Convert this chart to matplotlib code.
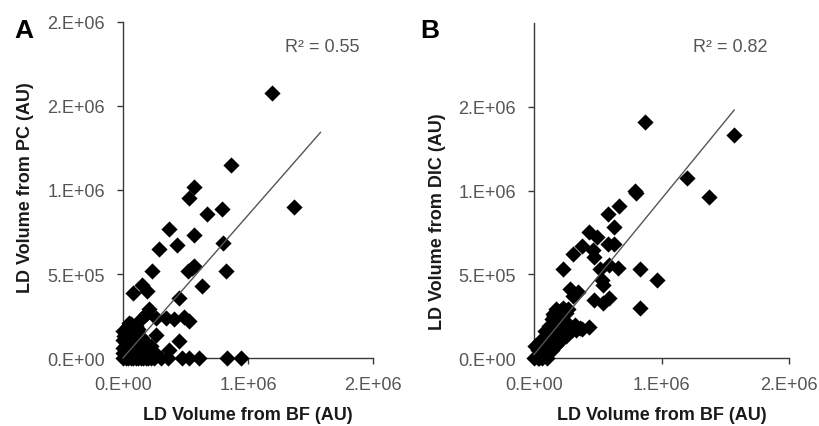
import matplotlib
matplotlib.use("Agg")
import matplotlib.pyplot as plt
import numpy as np

plt.rcParams['font.family'] = ['Liberation Sans', 'DejaVu Sans']

# LD volume estimates (AU), bright field vs phase contrast
pc_bf = [1.19e6, 0.86e6, 1.37e6, 0.57e6, 0.53e6, 0.67e6, 0.79e6, 0.37e6, 0.57e6, 0.43e6,
         0.29e6, 0.80e6, 0.23e6, 0.52e6, 0.57e6, 0.55e6, 0.82e6, 0.635e6, 0.08e6, 0.15e6,
         0.19e6, 0.445e6, 0.21e6, 0.18e6, 0.145e6, 0.26e6, 0.34e6, 0.41e6, 0.49e6, 0.53e6,
         0.26e6, 0.45e6, 0.37e6, 0.05e6,
         0.36e6, 0.47e6, 0.53e6, 0.61e6, 0.83e6, 0.94e6, 0.30e6, 0.25e6,
         0.0, 0.02e6, 0.04e6, 0.06e6, 0.08e6, 0.10e6, 0.12e6, 0.14e6, 0.16e6, 0.18e6, 0.20e6, 0.22e6,
         0.01e6, 0.03e6, 0.05e6, 0.07e6, 0.09e6, 0.11e6, 0.13e6, 0.15e6, 0.17e6, 0.19e6, 0.21e6, 0.24e6, 0.27e6,
         0.02e6, 0.04e6, 0.06e6, 0.08e6, 0.10e6, 0.12e6, 0.14e6, 0.16e6, 0.18e6, 0.20e6, 0.22e6,
         0.01e6, 0.03e6, 0.05e6, 0.07e6, 0.09e6, 0.11e6, 0.13e6, 0.15e6,
         0.04e6, 0.06e6, 0.08e6, 0.10e6, 0.12e6, 0.0, 0.0,
         0.0, 0.0, 0.02e6, 0.05e6, 0.09e6, 0.13e6, 0.17e6, 0.03e6, 0.07e6, 0.11e6]
pc_val = [1.58e6, 1.15e6, 0.90e6, 1.02e6, 0.95e6, 0.855e6, 0.885e6, 0.765e6, 0.735e6, 0.675e6,
          0.65e6, 0.685e6, 0.52e6, 0.52e6, 0.55e6, 0.535e6, 0.52e6, 0.43e6, 0.385e6, 0.435e6,
          0.40e6, 0.36e6, 0.29e6, 0.26e6, 0.23e6, 0.24e6, 0.24e6, 0.23e6, 0.245e6, 0.22e6,
          0.135e6, 0.10e6, 0.045e6, 0.21e6,
          0.0, 0.0, 0.0, 0.0, 0.0, 0.0, 0.0, 0.0,
          0.0, 0.0, 0.0, 0.0, 0.0, 0.0, 0.0, 0.0, 0.0, 0.0, 0.0, 0.0,
          0.03e6, 0.05e6, 0.02e6, 0.04e6, 0.06e6, 0.03e6, 0.05e6, 0.02e6, 0.04e6, 0.03e6, 0.02e6, 0.03e6, 0.02e6,
          0.08e6, 0.10e6, 0.09e6, 0.12e6, 0.08e6, 0.10e6, 0.09e6, 0.07e6, 0.08e6, 0.06e6, 0.07e6,
          0.13e6, 0.15e6, 0.14e6, 0.17e6, 0.15e6, 0.14e6, 0.13e6, 0.12e6,
          0.19e6, 0.20e6, 0.18e6, 0.19e6, 0.17e6, 0.06e6, 0.11e6,
          0.16e6, 0.03e6, 0.12e6, 0.07e6, 0.11e6, 0.08e6, 0.10e6, 0.18e6, 0.14e6, 0.16e6]

# bright field vs differential interference contrast
dic_bf = [0.87e6, 1.57e6, 1.20e6, 1.375e6, 0.79e6, 0.80e6, 0.67e6, 0.58e6, 0.63e6, 0.43e6,
          0.495e6, 0.58e6, 0.63e6, 0.38e6, 0.305e6, 0.46e6, 0.47e6, 0.23e6, 0.515e6, 0.59e6,
          0.66e6, 0.83e6, 0.965e6, 0.83e6, 0.53e6, 0.54e6, 0.28e6, 0.345e6, 0.305e6, 0.47e6,
          0.54e6, 0.59e6, 0.43e6, 0.38e6, 0.325e6, 0.27e6, 0.30e6,
          0.0, 0.02e6, 0.04e6, 0.03e6, 0.05e6, 0.07e6, 0.06e6, 0.08e6, 0.10e6, 0.09e6,
          0.11e6, 0.12e6, 0.13e6, 0.14e6, 0.12e6, 0.15e6, 0.14e6, 0.16e6, 0.18e6, 0.17e6,
          0.19e6, 0.20e6, 0.22e6, 0.21e6, 0.18e6, 0.16e6, 0.19e6, 0.22e6, 0.25e6, 0.24e6,
          0.20e6, 0.17e6, 0.14e6, 0.11e6, 0.08e6, 0.10e6, 0.06e6, 0.03e6, 0.23e6, 0.25e6, 0.27e6,
          0.01e6, 0.05e6, 0.09e6, 0.13e6, 0.15e6, 0.10e6, 0.12e6, 0.16e6, 0.20e6, 0.24e6,
          0.28e6, 0.33e6, 0.36e6, 0.07e6, 0.04e6, 0.17e6, 0.21e6, 0.13e6]
dic_val = [1.41e6, 1.33e6, 1.075e6, 0.96e6, 0.995e6, 0.985e6, 0.91e6, 0.86e6, 0.785e6, 0.755e6,
           0.72e6, 0.68e6, 0.68e6, 0.67e6, 0.62e6, 0.645e6, 0.605e6, 0.53e6, 0.53e6, 0.555e6,
           0.54e6, 0.53e6, 0.465e6, 0.30e6, 0.465e6, 0.435e6, 0.41e6, 0.395e6, 0.37e6, 0.345e6,
           0.33e6, 0.36e6, 0.185e6, 0.175e6, 0.20e6, 0.18e6, 0.17e6,
           0.0, 0.01e6, 0.02e6, 0.05e6, 0.04e6, 0.06e6, 0.09e6, 0.08e6, 0.10e6, 0.12e6,
           0.13e6, 0.11e6, 0.15e6, 0.17e6, 0.19e6, 0.21e6, 0.23e6, 0.25e6, 0.27e6, 0.29e6,
           0.24e6, 0.28e6, 0.26e6, 0.22e6, 0.20e6, 0.16e6, 0.15e6, 0.14e6, 0.13e6, 0.18e6,
           0.10e6, 0.08e6, 0.05e6, 0.03e6, 0.02e6, 0.0, 0.0, 0.0, 0.30e6, 0.27e6, 0.29e6,
           0.07e6, 0.10e6, 0.16e6, 0.20e6, 0.26e6, 0.06e6, 0.07e6, 0.12e6, 0.17e6, 0.22e6,
           0.16e6, 0.17e6, 0.18e6, 0.03e6, 0.0, 0.21e6, 0.19e6, 0.09e6]

# linear trend lines (slope, intercept, x range)
trend_pc = (0.85, 0.0, 0.0, 1.58e6)
trend_dic = (0.93, 0.02e6, 0.0, 1.57e6)
r2_pc = "R² = 0.55"
r2_dic = "R² = 0.82"

x_ticks = [0, 1e6, 2e6]
x_tick_labels = ["0.E+00", "1.E+06", "2.E+06"]
y_ticks_a = [0, 5e5, 1e6, 1.5e6, 2e6]
y_tick_labels_a = ["0.E+00", "5.E+05", "1.E+06", "2.E+06", "2.E+06"]
y_ticks_b = [0, 5e5, 1e6, 1.5e6]
y_tick_labels_b = ["0.E+00", "5.E+05", "1.E+06", "2.E+06"]

W, H = 819, 427
fig = plt.figure(figsize=(W / 100, H / 100), dpi=100)

spine_col = '#3a3a3a'
tick_col = '#555555'


def panel(rect, xs, ys, trend, r2, yticks, ylabels, ylabel, letter, letter_xy, r2_xy, ylab_y):
    ax = fig.add_axes([rect[0] / W, 1 - rect[3] / H, (rect[2] - rect[0]) / W, (rect[3] - rect[1]) / H])
    ax.scatter(xs, ys, marker='D', s=68, color='black', linewidths=0, clip_on=False, zorder=3)
    m, b, x0, x1 = trend
    tx = np.array([x0, x1])
    ax.plot(tx, m * tx + b, color='#555555', lw=1.0, zorder=4, clip_on=False)
    ax.set_xlim(0, 2e6)
    ax.set_ylim(0, 2e6)
    ax.set_xticks(x_ticks)
    ax.set_xticklabels(x_tick_labels)
    ax.set_yticks(yticks)
    ax.set_yticklabels(ylabels)
    for s in ('top', 'right'):
        ax.spines[s].set_visible(False)
    for s in ('left', 'bottom'):
        ax.spines[s].set_color(spine_col)
        ax.spines[s].set_linewidth(1.0)
    ax.tick_params(direction='out', length=4, width=1.0, color=spine_col,
                   labelsize=13, labelcolor=tick_col)
    ax.tick_params(axis='x', pad=9)
    ax.tick_params(axis='y', pad=9)
    ax.set_xlabel("LD Volume from BF (AU)", fontsize=13, fontweight='bold', color='#1a1a1a')
    ax.xaxis.set_label_coords(0.5, -(416 - rect[3]) / (rect[3] - rect[1]))
    ax.xaxis.label.set_va('center')
    ax.set_ylabel(ylabel, fontsize=13, fontweight='bold', color='#1a1a1a')
    ax.yaxis.set_label_coords(-(rect[0] - ylab_y[0]) / (rect[2] - rect[0]),
                              (rect[3] - ylab_y[1]) / (rect[3] - rect[1]))
    ax.yaxis.label.set_va('center')
    ax.yaxis.label.set_ha('center')
    fig.text(r2_xy[0] / W, 1 - r2_xy[1] / H, r2, fontsize=13, color=tick_col,
             ha='center', va='center')
    fig.text(letter_xy[0] / W, 1 - letter_xy[1] / H, letter, fontsize=19,
             fontweight='bold', color='black', ha='left', va='baseline')
    return ax


panel((123, 23, 373, 359), pc_bf, pc_val, trend_pc, r2_pc, y_ticks_a, y_tick_labels_a,
      "LD Volume from PC (AU)", "A", (14, 38), (322, 47), (26, 188))
panel((534, 24, 789, 359), dic_bf, dic_val, trend_dic, r2_dic, y_ticks_b, y_tick_labels_b,
      "LD Volume from DIC (AU)", "B", (420, 38), (730, 47), (438, 222))

fig.savefig("out.png", dpi=100)
